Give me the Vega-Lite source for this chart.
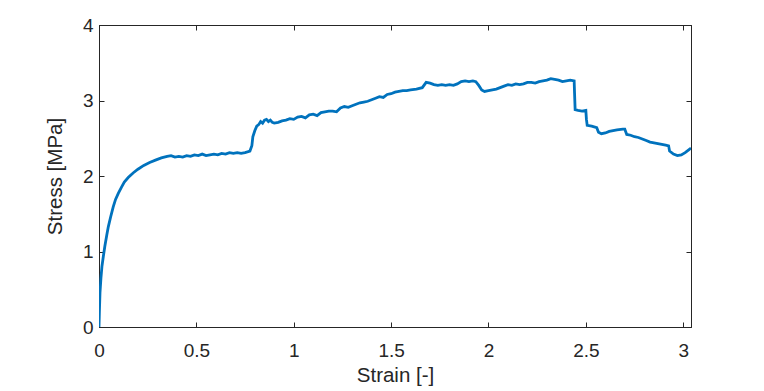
{
  "$schema": "https://vega.github.io/schema/vega-lite/v6.json",
  "width": 592,
  "height": 302,
  "autosize": {"type": "none"},
  "padding": {"left": 99, "top": 25, "right": 73, "bottom": 64},
  "background": "white",
  "config": {
    "view": {"stroke": "#262626", "strokeWidth": 1},
    "font": "Liberation Sans",
    "axis": {
      "domainColor": "#262626",
      "tickColor": "#262626",
      "labelColor": "#262626",
      "titleColor": "#262626",
      "labelFont": "Liberation Sans",
      "titleFont": "Liberation Sans",
      "labelFontSize": 19,
      "titleFontSize": 20.5,
      "titleFontWeight": "normal",
      "grid": false,
      "tickSize": -5,
      "domainWidth": 1,
      "tickWidth": 1,
      "labelFlush": false
    }
  },
  "data": {"values": [
    {"strain":0,"stress":0},{"strain":0.002,"stress":0.2},{"strain":0.005,"stress":0.45},{"strain":0.01,"stress":0.65},{"strain":0.015,"stress":0.8},{"strain":0.022,"stress":0.93},{"strain":0.03,"stress":1.07},{"strain":0.04,"stress":1.22},{"strain":0.048,"stress":1.33},{"strain":0.06,"stress":1.46},{"strain":0.073,"stress":1.59},{"strain":0.085,"stress":1.69},{"strain":0.099,"stress":1.77},{"strain":0.115,"stress":1.85},{"strain":0.13,"stress":1.92},{"strain":0.15,"stress":1.98},{"strain":0.175,"stress":2.04},{"strain":0.2,"stress":2.09},{"strain":0.23,"stress":2.14},{"strain":0.26,"stress":2.18},{"strain":0.29,"stress":2.21},{"strain":0.32,"stress":2.24},{"strain":0.35,"stress":2.26},{"strain":0.37,"stress":2.27},{"strain":0.39,"stress":2.25},{"strain":0.41,"stress":2.26},{"strain":0.43,"stress":2.25},{"strain":0.45,"stress":2.27},{"strain":0.47,"stress":2.26},{"strain":0.49,"stress":2.28},{"strain":0.51,"stress":2.27},{"strain":0.53,"stress":2.29},{"strain":0.55,"stress":2.27},{"strain":0.57,"stress":2.28},{"strain":0.59,"stress":2.29},{"strain":0.61,"stress":2.28},{"strain":0.63,"stress":2.3},{"strain":0.65,"stress":2.29},{"strain":0.67,"stress":2.31},{"strain":0.69,"stress":2.3},{"strain":0.71,"stress":2.31},{"strain":0.73,"stress":2.3},{"strain":0.75,"stress":2.31},{"strain":0.775,"stress":2.33},{"strain":0.785,"stress":2.4},{"strain":0.79,"stress":2.52},{"strain":0.8,"stress":2.6},{"strain":0.81,"stress":2.66},{"strain":0.82,"stress":2.68},{"strain":0.83,"stress":2.72},{"strain":0.84,"stress":2.7},{"strain":0.85,"stress":2.74},{"strain":0.86,"stress":2.75},{"strain":0.87,"stress":2.72},{"strain":0.88,"stress":2.74},{"strain":0.89,"stress":2.71},{"strain":0.9,"stress":2.7},{"strain":0.92,"stress":2.71},{"strain":0.94,"stress":2.73},{"strain":0.96,"stress":2.74},{"strain":0.98,"stress":2.76},{"strain":1.0,"stress":2.75},{"strain":1.02,"stress":2.78},{"strain":1.04,"stress":2.79},{"strain":1.06,"stress":2.77},{"strain":1.08,"stress":2.81},{"strain":1.1,"stress":2.82},{"strain":1.12,"stress":2.8},{"strain":1.14,"stress":2.84},{"strain":1.16,"stress":2.85},{"strain":1.18,"stress":2.86},{"strain":1.2,"stress":2.86},{"strain":1.22,"stress":2.85},{"strain":1.24,"stress":2.9},{"strain":1.26,"stress":2.92},{"strain":1.28,"stress":2.91},{"strain":1.3,"stress":2.93},{"strain":1.32,"stress":2.95},{"strain":1.34,"stress":2.97},{"strain":1.36,"stress":2.98},{"strain":1.38,"stress":2.99},{"strain":1.4,"stress":3.01},{"strain":1.42,"stress":3.03},{"strain":1.44,"stress":3.05},{"strain":1.46,"stress":3.04},{"strain":1.48,"stress":3.08},{"strain":1.5,"stress":3.09},{"strain":1.52,"stress":3.11},{"strain":1.54,"stress":3.12},{"strain":1.56,"stress":3.13},{"strain":1.58,"stress":3.13},{"strain":1.6,"stress":3.14},{"strain":1.63,"stress":3.15},{"strain":1.66,"stress":3.17},{"strain":1.68,"stress":3.24},{"strain":1.7,"stress":3.23},{"strain":1.72,"stress":3.21},{"strain":1.74,"stress":3.2},{"strain":1.76,"stress":3.21},{"strain":1.78,"stress":3.2},{"strain":1.8,"stress":3.21},{"strain":1.82,"stress":3.2},{"strain":1.84,"stress":3.22},{"strain":1.86,"stress":3.25},{"strain":1.88,"stress":3.26},{"strain":1.9,"stress":3.25},{"strain":1.92,"stress":3.26},{"strain":1.935,"stress":3.25},{"strain":1.95,"stress":3.2},{"strain":1.965,"stress":3.14},{"strain":1.98,"stress":3.12},{"strain":2.0,"stress":3.13},{"strain":2.02,"stress":3.14},{"strain":2.04,"stress":3.15},{"strain":2.06,"stress":3.17},{"strain":2.08,"stress":3.19},{"strain":2.1,"stress":3.21},{"strain":2.12,"stress":3.2},{"strain":2.14,"stress":3.22},{"strain":2.16,"stress":3.21},{"strain":2.18,"stress":3.22},{"strain":2.2,"stress":3.24},{"strain":2.22,"stress":3.24},{"strain":2.24,"stress":3.23},{"strain":2.26,"stress":3.25},{"strain":2.28,"stress":3.26},{"strain":2.3,"stress":3.27},{"strain":2.32,"stress":3.29},{"strain":2.34,"stress":3.28},{"strain":2.36,"stress":3.27},{"strain":2.38,"stress":3.25},{"strain":2.4,"stress":3.26},{"strain":2.42,"stress":3.27},{"strain":2.44,"stress":3.26},{"strain":2.442,"stress":3.1},{"strain":2.445,"stress":2.88},{"strain":2.46,"stress":2.87},{"strain":2.48,"stress":2.86},{"strain":2.5,"stress":2.87},{"strain":2.503,"stress":2.75},{"strain":2.507,"stress":2.67},{"strain":2.53,"stress":2.66},{"strain":2.556,"stress":2.64},{"strain":2.565,"stress":2.58},{"strain":2.58,"stress":2.56},{"strain":2.6,"stress":2.57},{"strain":2.62,"stress":2.59},{"strain":2.64,"stress":2.6},{"strain":2.66,"stress":2.61},{"strain":2.69,"stress":2.62},{"strain":2.7,"stress":2.62},{"strain":2.71,"stress":2.55},{"strain":2.73,"stress":2.54},{"strain":2.75,"stress":2.52},{"strain":2.77,"stress":2.51},{"strain":2.79,"stress":2.49},{"strain":2.81,"stress":2.47},{"strain":2.83,"stress":2.45},{"strain":2.85,"stress":2.44},{"strain":2.87,"stress":2.43},{"strain":2.89,"stress":2.42},{"strain":2.91,"stress":2.41},{"strain":2.925,"stress":2.4},{"strain":2.93,"stress":2.33},{"strain":2.95,"stress":2.29},{"strain":2.97,"stress":2.27},{"strain":2.99,"stress":2.28},{"strain":3.01,"stress":2.31},{"strain":3.03,"stress":2.35},{"strain":3.04,"stress":2.37}
  ]},
  "layer": [
    {
      "mark": {"type": "line", "color": "#0072BD", "strokeWidth": 2.8, "clip": true},
      "encoding": {
        "x": {"field": "strain", "type": "quantitative",
              "scale": {"domain": [0, 3.04], "nice": false, "zero": false},
              "axis": {"orient": "bottom", "values": [0, 0.5, 1, 1.5, 2, 2.5, 3], "title": "Strain [-]", "labelPadding": 19, "titlePadding": 5, "format": "~g"}},
        "y": {"field": "stress", "type": "quantitative",
              "scale": {"domain": [0, 4], "nice": false},
              "axis": {"orient": "left", "values": [0, 1, 2, 3, 4], "title": "Stress [MPa]", "labelPadding": 11, "titlePadding": 17}}
      }
    },
    {
      "mark": {"type": "line", "opacity": 0},
      "encoding": {
        "x": {"field": "strain", "type": "quantitative",
              "axis": {"orient": "top", "values": [0, 0.5, 1, 1.5, 2, 2.5, 3], "labels": false, "title": null}},
        "y": {"field": "stress", "type": "quantitative",
              "axis": {"orient": "right", "values": [0, 1, 2, 3, 4], "labels": false, "title": null}}
      }
    }
  ],
  "resolve": {"axis": {"x": "independent", "y": "independent"}}
}
